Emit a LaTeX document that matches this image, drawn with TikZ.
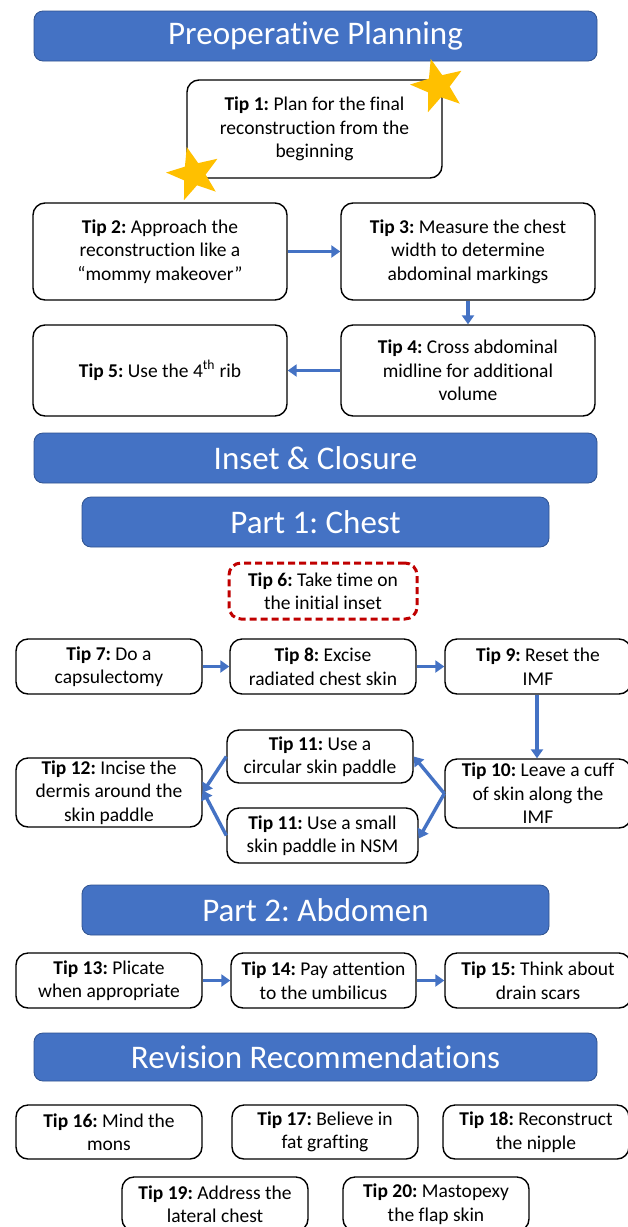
\documentclass[tikz,border=0pt]{standalone}
\usepackage{fontspec}
\setmainfont{Carlito}[Ligatures=NoCommon]
\usetikzlibrary{shapes.geometric,arrows.meta}
\definecolor{hdrblue}{HTML}{4472C4}
\definecolor{hdredge}{HTML}{2F528F}
\definecolor{starcol}{HTML}{FFC000}
\definecolor{dashred}{HTML}{C00000}
\frenchspacing
\tikzset{
  tipbox/.style={draw=black, line width=1.4pt, rounded corners=12pt, fill=white,
    align=center, inner sep=0pt, font=\fontsize{19.5}{23.5}\selectfont},
  hdr/.style={draw=hdredge, line width=0.8pt, fill=hdrblue, rounded corners=9pt,
    text=white, align=center, inner sep=0pt, font=\fontsize{33}{40}\selectfont},
  flow/.style={draw=hdrblue, line width=3.4pt, -{Triangle[length=9pt,width=12pt]}},
  goldstar/.style={star, star points=5, star point ratio=2.4, fill=starcol,
    draw=none, minimum size=56pt, inner sep=0pt, rotate=15}
}
\begin{document}
\begin{tikzpicture}[x=1pt,y=-1pt]
\path[use as bounding box, clip] (0,0) rectangle (628,1227);
\fill[white] (0,0) rectangle (628,1227);
% headers
\node[hdr, minimum width=563pt, minimum height=50pt] (h1) at (315.5,36) {Preoperative Planning};
\node[hdr, minimum width=563pt, minimum height=50pt] (h2) at (315.5,458) {Inset \& Closure};
\node[hdr, minimum width=467pt, minimum height=50pt] (h3) at (315.5,522) {Part 1: Chest};
\node[hdr, minimum width=467pt, minimum height=50pt] (h4) at (315.5,910) {Part 2: Abdomen};
\node[hdr, minimum width=563pt, minimum height=48pt] (h5) at (315.5,1057) {Revision Recommendations};
% preoperative
\node[tipbox, minimum width=255pt, minimum height=98pt] (t1) at (314.5,129) {\textbf{Tip 1:} Plan for the final\\reconstruction from the\\beginning};
\node[goldstar] (s1) at (438,86) {};
\node[goldstar] (s2) at (194,174) {};
\node[tipbox, minimum width=254pt, minimum height=97pt] (t2) at (160,251.5) {\textbf{Tip 2:} Approach the\\reconstruction like a\\“mommy makeover”};
\node[tipbox, minimum width=254pt, minimum height=97pt] (t3) at (468,251.5) {\textbf{Tip 3:} Measure the chest\\width to determine\\abdominal markings};
\node[tipbox, minimum width=254pt, minimum height=91pt] (t4) at (468,370.5) {\textbf{Tip 4:} Cross abdominal\\midline for additional\\volume};
\node[tipbox, minimum width=254pt, minimum height=91pt] (t5) at (160,370.5) {\textbf{Tip 5:} Use the 4\textsuperscript{th} rib};
\draw[flow] (t2) -- (t3);
\draw[flow] (t3) -- (t4);
\draw[flow] (t4) -- (t5);
% part 1
\node[tipbox, draw=dashred, dashed, dash pattern=on 7pt off 4pt, line width=3pt, minimum width=188pt, minimum height=56pt] (t6) at (323,591) {\textbf{Tip 6:} Take time on\\the initial inset};
\node[tipbox, minimum width=186pt, minimum height=55pt] (t7) at (109,666.5) {\textbf{Tip 7:} Do a\\capsulectomy};
\node[tipbox, minimum width=186pt, minimum height=55pt] (t8) at (323,666.5) {\textbf{Tip 8:} Excise\\radiated chest skin};
\node[tipbox, minimum width=186pt, minimum height=55pt] (t9) at (538,666.5) {\textbf{Tip 9:} Reset the\\IMF};
\node[tipbox, minimum width=186pt, minimum height=69pt] (t10) at (538,793.5) {\textbf{Tip 10:} Leave a cuff\\of skin along the\\IMF};
\node[tipbox, minimum width=186pt, minimum height=53pt] (t11a) at (320,756.5) {\textbf{Tip 11:} Use a\\circular skin paddle};
\node[tipbox, minimum width=191pt, minimum height=55pt] (t11b) at (322.5,835.5) {\textbf{Tip 11:} Use a small\\skin paddle in NSM};
\node[tipbox, minimum width=186pt, minimum height=69pt] (t12) at (109,792.5) {\textbf{Tip 12:} Incise the\\dermis around the\\skin paddle};
\draw[flow] (t7) -- (t8);
\draw[flow] (t8) -- (t9);
\draw[flow] (t9.south -| 537,0) -- (t10.north -| 537,0);
\draw[flow] (t10.west) -- (t11a.east);
\draw[flow] (t10.west) -- ([yshift=-3pt]t11b.east);
\draw[flow] (t11a.west) -- (t12.east);
\draw[flow] (t11b.west) -- ([yshift=2pt]t12.east);
% part 2
\node[tipbox, minimum width=186pt, minimum height=55pt] (t13) at (109,980.5) {\textbf{Tip 13:} Plicate\\when appropriate};
\node[tipbox, minimum width=185pt, minimum height=55pt] (t14) at (323.5,980.5) {\textbf{Tip 14:} Pay attention\\to the umbilicus};
\node[tipbox, minimum width=186pt, minimum height=55pt] (t15) at (538,980.5) {\textbf{Tip 15:} Think about\\drain scars};
\draw[flow] (t13) -- (t14);
\draw[flow] (t14) -- (t15);
% revision
\node[tipbox, minimum width=186pt, minimum height=54pt] (t16) at (109,1132) {\textbf{Tip 16:} Mind the\\mons};
\node[tipbox, minimum width=186pt, minimum height=54pt] (t17) at (325,1132) {\textbf{Tip 17:} Believe in\\fat grafting};
\node[tipbox, minimum width=186pt, minimum height=54pt] (t18) at (536,1132) {\textbf{Tip 18:} Reconstruct\\the nipple};
\node[tipbox, minimum width=186pt, minimum height=54pt] (t19) at (215,1204) {\textbf{Tip 19:} Address the\\lateral chest};
\node[tipbox, minimum width=186pt, minimum height=54pt] (t20) at (436,1204) {\textbf{Tip 20:} Mastopexy\\the flap skin};
\end{tikzpicture}
\end{document}
